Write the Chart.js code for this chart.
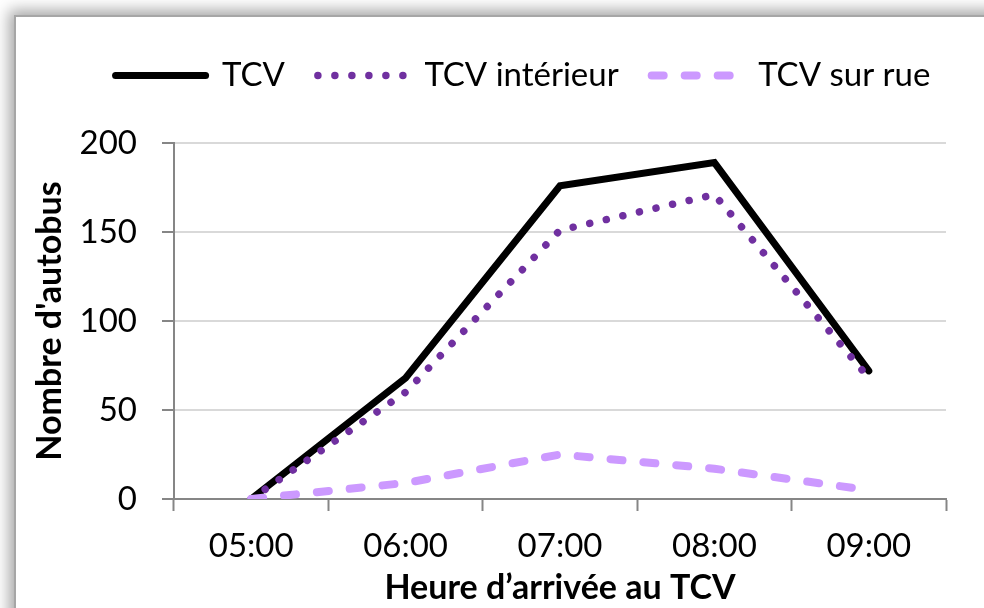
<!DOCTYPE html>
<html>
<head>
<meta charset="utf-8">
<script src="https://cdn.jsdelivr.net/npm/chart.js@4/dist/chart.umd.min.js"></script>
<style>
  html, body { margin: 0; padding: 0; background: #fff; overflow: hidden; }
  #frame {
    position: absolute; left: 14px; top: 15px; width: 1000px; height: 700px;
    border-left: 2px solid #a6a6a6; border-top: 2px solid #a6a6a6;
    box-shadow: -2px -2px 14px 3px rgba(0,0,0,0.35);
    background: #fff;
  }
  #wrap { position: absolute; left: 0; top: 0; width: 984px; height: 608px; }
</style>
</head>
<body>
<div id="frame"></div>
<div id="wrap"><canvas id="chart"></canvas></div>
<script>
// Données
const heures = ['05:00', '06:00', '07:00', '08:00', '09:00'];
const tcv = [0, 68, 176, 189, 72];
const tcvInterieur = [0, 60, 151, 171, 68];
const tcvSurRue = [0, 9, 25, 17, 5];

const police = 'Lato, "Liberation Sans", sans-serif';
const gris = '#868686';

// Légende : hauteur fixe et décalage horizontal comme dans l'original
const legendLayout = {
  id: 'legendLayout',
  beforeInit(chart) {
    const fit = chart.legend.fit;
    chart.legend.fit = function () {
      fit.bind(chart.legend)();
      this.height = 117;
    };
  },
  afterLayout(chart) {
    chart.legend.left += 40;
    chart.legend.right += 40;
  }
};

const ctx = document.getElementById('chart').getContext('2d');
const chart = new Chart(ctx, {
  type: 'line',
  data: {
    labels: heures,
    datasets: [
      {
        label: 'TCV',
        data: tcv,
        borderColor: '#000000',
        borderWidth: 7,
        borderCapStyle: 'round',
        order: 3
      },
      {
        label: 'TCV intérieur',
        data: tcvInterieur,
        borderColor: '#7030a0',
        borderWidth: 7.5,
        borderDash: [0.001, 17],
        borderCapStyle: 'round',
        borderJoinStyle: 'round',
        order: 2
      },
      {
        label: 'TCV sur rue',
        data: tcvSurRue,
        borderColor: '#cc99ff',
        borderWidth: 8,
        borderDash: [12, 21],
        borderCapStyle: 'round',
        borderJoinStyle: 'round',
        order: 1
      }
    ]
  },
  options: {
    responsive: true,
    maintainAspectRatio: false,
    animation: false,
    elements: { point: { radius: 0, hoverRadius: 0 }, line: { tension: 0, fill: false } },
    layout: { padding: { left: 20, right: 38, top: 26, bottom: 0 } },
    plugins: {
      tooltip: { enabled: false },
      legend: {
        position: 'top',
        labels: {
          usePointStyle: true,
          pointStyle: 'line',
          pointStyleWidth: 90,
          padding: 33,
          color: '#000',
          font: { family: police, size: 33 },
          sort: (a, b) => a.datasetIndex - b.datasetIndex,
          generateLabels(chart) {
            const items = Chart.defaults.plugins.legend.labels.generateLabels(chart);
            items.forEach(item => {
              const ds = chart.data.datasets[item.datasetIndex];
              item.lineDash = ds.borderDash || [];
              item.lineCap = ds.borderCapStyle;
              item.lineWidth = ds.borderWidth;
              item.strokeStyle = ds.borderColor;
              item.pointStyle = 'line';
            });
            return items;
          }
        }
      }
    },
    scales: {
      x: {
        offset: true,
        grid: { offset: true, drawOnChartArea: false, tickLength: 12, tickColor: gris, tickWidth: 2 },
        border: { color: gris, width: 2 },
        ticks: { color: '#000', padding: 16, font: { family: police, size: 33 }, maxRotation: 0 },
        title: {
          display: true,
          text: 'Heure d’arrivée au TCV',
          color: '#000',
          font: { family: police, size: 34, weight: 'bold' },
          padding: { top: 0, bottom: 0 }
        },
        afterFit(scale) { scale.height = 109; }
      },
      y: {
        min: 0,
        max: 200,
        ticks: { stepSize: 50, color: '#000', padding: 25, font: { family: police, size: 33 } },
        grid: { color: '#d9d9d9', lineWidth: 2, tickLength: 12, tickColor: gris, tickWidth: 2 },
        border: { color: gris, width: 2 },
        title: {
          display: true,
          text: "Nombre d'autobus",
          color: '#000',
          font: { family: police, size: 34, weight: 'bold' },
          padding: { top: 10, bottom: 0 }
        },
        afterFit(scale) { scale.width = 154; }
      }
    }
  },
  plugins: [legendLayout]
});
</script>
</body>
</html>
